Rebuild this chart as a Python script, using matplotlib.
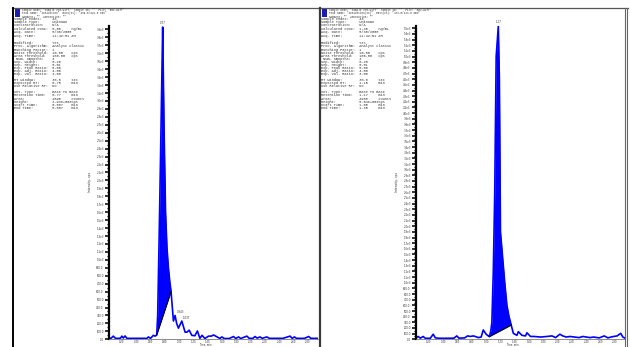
import numpy as np
import matplotlib
matplotlib.use("Agg")
import matplotlib.pyplot as plt
from matplotlib.lines import Line2D
from matplotlib.patches import Rectangle

W, H = 630, 347

# ---- left chromatogram (time in min, intensity in cps)
t_left = [0.02, 0.05, 0.08, 0.11, 0.15, 0.18, 0.20, 0.22, 0.245, 0.27, 0.32, 0.40,
          0.48, 0.55, 0.57, 0.60, 0.64, 0.665, 0.687, 0.70, 0.72, 0.74, 0.76, 0.77,
          0.79, 0.81, 0.83, 0.85, 0.87, 0.887, 0.92, 0.943, 0.965, 0.99, 1.037,
          1.083, 1.11, 1.14, 1.177, 1.22, 1.255, 1.29, 1.32, 1.36, 1.41, 1.45, 1.48,
          1.53, 1.57, 1.596, 1.63, 1.70, 1.76, 1.79, 1.83, 1.86, 1.946, 1.98, 2.03,
          2.06, 2.09, 2.13, 2.16, 2.225, 2.26, 2.35, 2.45, 2.55, 2.58, 2.61, 2.64,
          2.75, 2.81, 2.84, 2.94]
i_left = [12, 14, 40, 12, 12, 14, 40, 16, 42, 12, 12, 12,
          12, 12, 30, 12, 50, 40, 55, 300, 1250, 2300, 3400, 3930,
          2600, 1600, 1150, 900, 720, 600, 230, 300, 200, 140, 230,
          90, 90, 115, 50, 45, 105, 12, 50, 10, 40, 40, 55,
          30, 10, 30, 10, 10, 35, 10, 30, 10, 40, 12, 12,
          35, 15, 30, 12, 30, 12, 12, 12, 40, 12, 30, 12,
          12, 35, 12, 12]
left_base = (0.687, 0.887)
left_peak = 0.77
left_labels = [0.943, 1.037]

# ---- right chromatogram
t_right = [0.02, 0.05, 0.08, 0.12, 0.15, 0.22, 0.26, 0.29, 0.35, 0.45, 0.55, 0.59,
           0.62, 0.70, 0.74, 0.78, 0.82, 0.86, 0.89, 0.93, 0.96, 1.00, 1.03, 1.045,
           1.065, 1.08, 1.10, 1.12, 1.14, 1.17, 1.185, 1.20, 1.23, 1.26, 1.29, 1.32,
           1.35, 1.38, 1.43, 1.45, 1.50, 1.55, 1.57, 1.62, 1.67, 1.76, 1.85, 1.92,
           1.97, 2.03, 2.07, 2.12, 2.17, 2.30, 2.35, 2.45, 2.50, 2.58, 2.65, 2.70,
           2.76, 2.83, 2.88, 2.91, 2.94]
i_right = [20, 50, 20, 50, 18, 18, 90, 25, 18, 18, 20, 60,
           20, 25, 60, 50, 60, 45, 30, 40, 165, 90, 60, 47,
           150, 300, 1200, 2600, 5000, 5540, 4600, 1900, 1450, 1000, 600, 400,
           252, 105, 70, 135, 70, 60, 115, 50, 50, 40, 50, 60,
           30, 90, 60, 40, 50, 30, 50, 30, 40, 25, 60, 25,
           45, 60, 105, 40, 20]
right_base = (1.045, 1.35)
right_peak = 1.17

x_ticks = [0.2, 0.4, 0.6, 0.8, 1.0, 1.2, 1.4, 1.6, 1.8, 2.0, 2.2, 2.4, 2.6, 2.8]

header_left = ['Sample Name: "sample 2TG.wiff"  Sample ID: ""  File: "002.wiff"',
               'Peak Name: "Ionization"  Mass(es): "469.0/429.0 amu"',
               'Comment: ""  Annotation: ""']
header_right = ['Sample Name: "sample 2TG.wiff"  Sample ID: ""  File: "002.wiff"',
                'Peak Name: "Ionization(IS)"  Mass(es): "473.0/433.0 amu"',
                'Comment: ""  Annotation: ""']

info_keys = ["Sample Index:", "Sample Type:", "Concentration:", "Calculated Conc:",
             "Acq. Date:", "Acq. Time:", "Modified:", "Proc. Algorithm:",
             "Bunching Factor:", "Noise Threshold:", "Area Threshold:", " Num. Smooths:",
             "Sep. Width:", "Sep. Height:", "Exp. Peak Ratio:", "Exp. Adj. Ratio:",
             "Exp. Val. Ratio:", "RT Window:", "Expected RT:", "Use Relative RT:",
             "Int. Type:", "Retention Time:", "Area:", "Height:", "Start Time:",
             "End Time:"]
info_left = [("43", ""), ("Unknown", ""), ("N/A", ""), ("0.00", "ng/mL"),
             ("5/30/2008", ""), ("11:42:51 AM", ""), ("Yes", ""), ("Analyst Classic", ""),
             ("1", ""), ("10.00", "cps"), ("100.00", "cps"), ("3", ""),
             ("0.20", ""), ("0.01", ""), ("5.00", ""), ("4.00", ""),
             ("3.00", ""), ("30.0", "sec"), ("0.75", "min"), ("No", ""),
             ("Base To Base", ""), ("0.77", "min"), ("2690", "counts"),
             ("3.93e+003", "cps"), ("0.687", "min"), ("0.887", "min")]
info_right = [("43", ""), ("Unknown", ""), ("N/A", ""), ("1.30", "ng/mL"),
              ("5/30/2008", ""), ("11:42:51 AM", ""), ("Yes", ""), ("Analyst Classic", ""),
              ("1", ""), ("10.00", "cps"), ("100.00", "cps"), ("3", ""),
              ("0.20", ""), ("0.01", ""), ("5.00", ""), ("4.00", ""),
              ("3.00", ""), ("30.0", "sec"), ("1.15", "min"), ("No", ""),
              ("Base To Base", ""), ("1.17", "min"), ("4988", "counts"),
              ("5.54e+003", "cps"), ("1.05", "min"), ("1.35", "min")]
# pixel rows of the info block (groups separated by small gaps)
info_rows = [19.0, 22.0, 25.5, 28.7, 32.0, 35.5, 42.5, 46.5, 49.5, 52.7, 56.5, 59.3,
             62.2, 65.3, 68.3, 71.2, 74.2, 80.0, 83.0, 86.0, 92.3, 95.3, 99.0, 102.0,
             105.0, 108.0]

BLUE = "#0000ff"
TXT = "#333333"
AX_BOTTOM = 339.3   # pixel row of the time axis
AX_TOP = 25.5


def fx(px):
    return px / W


def fy(py):
    return 1 - py / H


def ylabel_fmt(v, _pos=None):
    if v >= 1000:
        return f"{v / 1000:.1f}e3"
    return f"{v:.1f}"


def draw_panel(fig, x0, header, info, t, inten, base, peak_t, ylim, extra_labels):
    # blue marker box and text block
    fig.add_artist(Rectangle((fx(x0 + 2.5), fy(16.8)), 5 / W, 8.5 / H,
                             transform=fig.transFigure, color="#1c1cb0", lw=0))
    for k, line in enumerate(header):
        fig.text(fx(x0 + 9.5), fy(10.3 + k * 3.1), line, fontsize=1.9,
                 family="Liberation Mono", color=TXT, va="center", ha="left")
    for key, (val, unit), row in zip(info_keys, info, info_rows):
        fig.text(fx(x0 + 1.5), fy(row), f"{key:<18s}{val:<9s}{unit}", fontsize=2.6,
                 family="Liberation Mono", color=TXT, va="center", ha="left")

    ax_h = AX_BOTTOM - AX_TOP
    ax = fig.add_axes([fx(x0 + 96.5), 1 - AX_BOTTOM / H, 209 / W, ax_h / H])
    t = np.asarray(t, float)
    inten = np.asarray(inten, float)

    # integrated area between curve and drawn baseline
    i0 = np.interp(base[0], t, inten)
    i1 = np.interp(base[1], t, inten)
    m = (t >= base[0] - 1e-9) & (t <= base[1] + 1e-9)
    bl = i0 + (t[m] - base[0]) * (i1 - i0) / (base[1] - base[0])
    ax.fill_between(t[m], bl, inten[m], color=BLUE, lw=0)
    ax.plot(t, inten, color=BLUE, lw=1.2, solid_joinstyle="round")
    ax.plot(base, [i0, i1], color="black", lw=0.7)

    pk = np.interp(peak_t, t, inten)
    ax.annotate(f"{peak_t:.2f}", (peak_t, pk), xytext=(0, 1.2), textcoords="offset points",
                fontsize=1.9, color=TXT, ha="center", va="bottom")
    for lt in extra_labels:
        ax.annotate(f"{lt:.3f}", (lt, np.interp(lt, t, inten)), xytext=(1.0, 0.8),
                    textcoords="offset points", fontsize=1.9, color=TXT,
                    ha="left", va="bottom")

    ax.set_xlim(0.02, 2.94)
    ax.set_ylim(0, ylim)
    ax.set_xticks(x_ticks)
    ax.set_xticklabels([f"{v:.2f}" for v in x_ticks])
    ax.set_yticks(np.arange(0, ylim, 100))
    ax.set_yticks(np.arange(50, ylim, 100), minor=True)
    ax.yaxis.set_major_formatter(plt.FuncFormatter(ylabel_fmt))
    for s in ("top", "right"):
        ax.spines[s].set_visible(False)
    ax.spines["left"].set_linewidth(1.6)
    ax.spines["bottom"].set_linewidth(0.6)
    ax.spines["bottom"].set_color("#777777")
    ax.tick_params(axis="y", which="major", length=2.6, width=1.1, labelsize=1.9,
                   pad=1.2, labelcolor=TXT)
    ax.tick_params(axis="y", which="minor", length=1.6, width=0.8)
    ax.tick_params(axis="x", length=0.5, width=0.5, labelsize=1.8, pad=0.2,
                   labelcolor=TXT, color="#777777")
    ax.set_ylabel("Intensity, cps", fontsize=2.2, color=TXT)
    ax.yaxis.set_label_coords(-0.082, 0.5)
    ax.set_xlabel("Time, min", fontsize=1.8, color=TXT, va="center")
    ax.xaxis.set_label_coords(0.46, -(345.2 - AX_BOTTOM) / ax_h)
    ax.patch.set_alpha(0)
    return ax


fig = plt.figure(figsize=(W / 100, H / 100), dpi=100)

draw_panel(fig, 12.5, header_left, info_left, t_left, i_left, left_base,
           left_peak, 3950, left_labels)
draw_panel(fig, 319.5, header_right, info_right, t_right, i_right, right_base,
           right_peak, 5550, [])

# panel frames
def vline(px, color, lw):
    fig.add_artist(Line2D([fx(px), fx(px)], [fy(8), 0], transform=fig.transFigure,
                          color=color, lw=lw))

fig.add_artist(Line2D([fx(12), fx(627.5)], [fy(8), fy(8)], transform=fig.transFigure,
                      color="#555555", lw=0.9))
vline(13.0, "black", 1.4)
vline(320.0, "#3a3a3a", 1.6)
vline(625.2, "#666666", 0.8)
vline(627.3, "#666666", 0.8)

fig.savefig("out.png", dpi=100)
